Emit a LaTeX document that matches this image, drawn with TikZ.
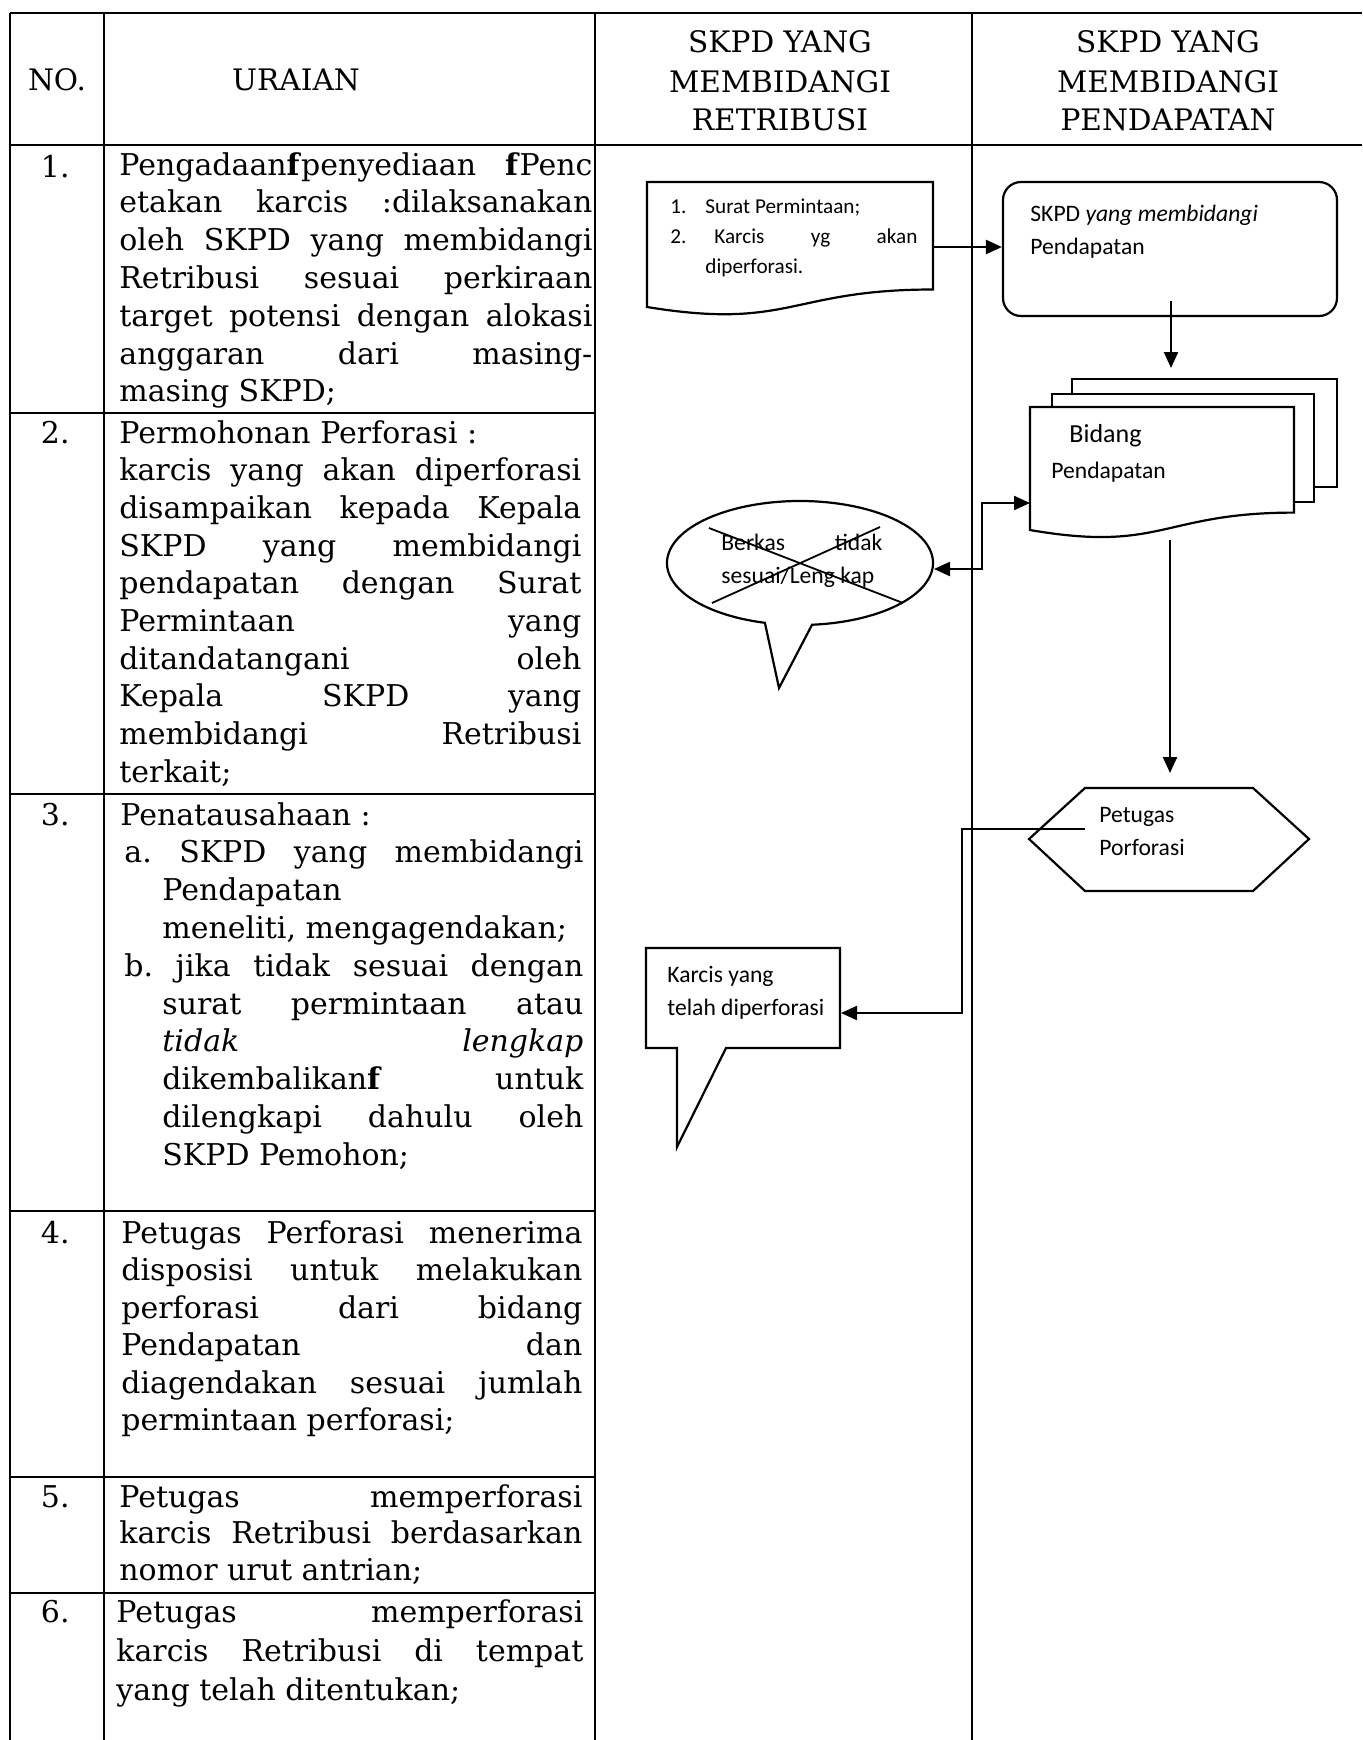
\documentclass[tikz,border=0pt]{standalone}
\usepackage{fontspec}
\setmainfont{DejaVu Serif}
\newfontfamily\cf{Carlito}
\usetikzlibrary{arrows.meta}
\newcommand\J[1]{\noindent\makebox[\linewidth][s]{#1}\par}
\newcommand\Ln[1]{\noindent#1\par}
\newlength\indw \setlength\indw{21pt}
\newcommand\JI[1]{\noindent\hspace*{\indw}\makebox[\dimexpr\linewidth-\indw\relax][s]{#1}\par}
\newcommand\LI[1]{\noindent\hspace*{\indw}#1\par}
\newcommand\rowbox[5]{\parbox[t]{#1}{\fontsize{15}{#2}\selectfont\setlength\parindent{0pt}\setlength\parskip{0pt}#3}}
\tikzset{
  tline/.style={line width=0.7pt},
  fline/.style={line width=1.1pt},
  arr/.style={fline,-{Triangle[length=8pt,width=7pt]}},
  twoarr/.style={fline,{Triangle[length=8pt,width=7pt]}-{Triangle[length=8pt,width=7pt]}},
  txt/.style={inner sep=0pt, anchor=base west},
  sm/.style={txt, font=\cf\fontsize{11.8}{14}\selectfont},
  smd/.style={txt, font=\cf\fontsize{10.6}{13}\selectfont},
  hd/.style={inner sep=0pt, anchor=base, font=\fontsize{14.8}{18}\selectfont},
  num/.style={inner sep=0pt, anchor=base east, font=\fontsize{15}{18}\selectfont}
}
\begin{document}
\begin{tikzpicture}[x=0.5pt,y=-0.5pt]
\useasboundingbox (0,0) rectangle (1362,1740);
% ---------- table ----------
\draw[tline] (10,13) -- (1362,13);
\draw[tline] (10,145) -- (1362,145);
\foreach \x in {10,104,595,972} \draw[tline] (\x,13) -- (\x,1740);
\foreach \y in {413,794,1211,1477,1593} \draw[tline] (10,\y) -- (595,\y);
% headers
\node[hd] (hno) at (57,90) {NO.};
\node[hd] (hur) at (296,90) {URAIAN};
\node[hd] (hr1) at (780,53) {SKPD YANG};
\node[hd] (hr2) at (780,92) {MEMBIDANGI};
\node[hd] (hr3) at (780,130) {RETRIBUSI};
\node[hd] (hp1) at (1168,53) {SKPD YANG};
\node[hd] (hp2) at (1168,92) {MEMBIDANGI};
\node[hd] (hp3) at (1168,130) {PENDAPATAN};
% numbers
\node[num] (n1) at (70,177) {1.};
\node[num] (n2) at (70,443) {2.};
\node[num] (n3) at (70,825) {3.};
\node[num] (n4) at (70,1243) {4.};
\node[num] (n5) at (70,1507) {5.};
\node[num] (n6) at (70,1622) {6.};
% rows
\node[txt] (r1) at (119,175) {\rowbox{236.5pt}{18.9pt}{%
\J{Pengadaan\textbf{f}penyediaan \textbf{f}Penc}
\J{etakan karcis :dilaksanakan}
\J{oleh SKPD yang membidangi}
\J{Retribusi sesuai perkiraan}
\J{target potensi dengan alokasi}
\J{anggaran dari masing-}
\Ln{masing SKPD;}}{}{}};
\node[txt] (r2) at (119,443) {\rowbox{231pt}{18.85pt}{%
\Ln{Permohonan Perforasi :}
\J{karcis yang akan diperforasi}
\J{disampaikan kepada Kepala}
\J{SKPD yang membidangi}
\J{pendapatan dengan Surat}
\J{Permintaan yang}
\J{ditandatangani oleh}
\J{Kepala SKPD yang}
\J{membidangi Retribusi}
\Ln{terkait;}}{}{}};
\node[txt] (r3) at (120,825) {\rowbox{231.5pt}{18.9pt}{%
\Ln{Penatausahaan :}
\J{\hspace*{2pt}a.\ SKPD yang membidangi}
\LI{Pendapatan}
\LI{meneliti, mengagendakan;}
\J{\hspace*{2pt}b.\ jika tidak sesuai dengan}
\JI{surat permintaan atau}
\JI{\textit{tidak} \textit{lengkap}}
\JI{dikembalikan\textbf{f} untuk}
\JI{dilengkapi dahulu oleh}
\LI{SKPD Pemohon;}}{}{}};
\node[txt] (r4) at (121,1243) {\rowbox{230.5pt}{18.75pt}{%
\J{Petugas Perforasi menerima}
\J{disposisi untuk melakukan}
\J{perforasi dari bidang}
\J{Pendapatan dan}
\J{diagendakan sesuai jumlah}
\Ln{permintaan perforasi;}}{}{}};
\node[txt] (r5) at (119,1507) {\rowbox{231.5pt}{18.25pt}{%
\J{Petugas memperforasi}
\J{karcis Retribusi berdasarkan}
\Ln{nomor urut antrian;}}{}{}};
\node[txt] (r6) at (116,1622) {\rowbox{233.5pt}{19.5pt}{%
\J{Petugas memperforasi}
\J{karcis Retribusi di tempat}
\Ln{yang telah ditentukan;}}{}{}};
% ---------- flowchart ----------
% document: Surat Permintaan
\draw[fline] (647,182) -- (933,182) -- (933,289.5) .. controls (790,289.5) and (790,330.4) .. (647,307) -- cycle;
\node[smd] (d1a) at (670,213) {1.};
\node[smd] (d1b) at (705,213) {Surat Permintaan;};
\node[smd] (d1c) at (670,243) {2.};
\node[smd] (d1d) at (714,243) {\makebox[101.5pt][s]{Karcis yg akan}};
\node[smd] (d1e) at (705,273) {diperforasi.};
% rounded process box
\node[draw, fline, rounded corners=9pt, minimum width=167pt, minimum height=67pt, inner sep=0pt] (rr) at (1170,249) {};
\node[sm] (rrt1) at (1030,221) {SKPD \textit{yang membidangi}};
\node[sm] (rrt2) at (1030,254) {Pendapatan};
\coordinate (c1) at (933,247);
\draw[arr] (c1) -- (c1 -| rr.west);
\coordinate (c2) at (1171,301);
\coordinate (c3) at (1171,368);
\draw[arr] (c2) -- (c3);
% multi-document
\draw[fline] (1072,394) -- (1072,379) -- (1337,379) -- (1337,487) -- (1314,487);
\draw[fline] (1052,407) -- (1052,394) -- (1314,394) -- (1314,502) -- (1294,502);
\draw[fline] (1030,407) -- (1294,407) -- (1294,512.6) .. controls (1162,512.6) and (1162,552.9) .. (1030,530) -- cycle;
\node[txt, font=\cf\fontsize{13}{15}\selectfont] (mb1) at (1069,442) {Bidang};
\node[sm] (mb2) at (1051,478) {Pendapatan};
% ellipse callout
\draw[fline] (764.9,622.8) arc[start angle=105.3, end angle=444.8, x radius=133, y radius=62] -- (779,688) -- cycle;
\draw[line width=0.9pt] (709,528) -- (903,603);
\draw[line width=0.9pt] (712,603) -- (880,527);
\node[sm] (bk1) at (721,550) {\makebox[80.5pt][s]{Berkas tidak}};
\node[sm] (bk2) at (721,583) {sesuai/Leng kap};
\coordinate (e1) at (1030,503);
\coordinate (e2) at (934,569);
\draw[twoarr] (e2) -- (982,569) -- (982,503) -- (e1);
% arrow to hexagon
\coordinate (c4) at (1170,540);
\coordinate (c5) at (1170,773);
\draw[arr] (c4) -- (c5);
% hexagon
\draw[fline] (1029,839) -- (1085,788) -- (1253,788) -- (1309,839) -- (1253,891) -- (1085,891) -- cycle;
\node[sm] (hx1) at (1099,822) {Petugas};
\node[sm] (hx2) at (1099,855) {Porforasi};
% rectangle callout
\draw[fline] (646,948) -- (840,948) -- (840,1048) -- (726,1048) -- (677,1147) -- (677,1048) -- (646,1048) -- cycle;
\node[sm] (kc1) at (667,982) {Karcis yang};
\node[sm] (kc2) at (667,1015) {telah diperforasi};
\coordinate (c6) at (1085,829);
\coordinate (c7) at (841,1013);
\draw[arr] (c6) -- (962,829) -- (962,1013) -- (c7);
\end{tikzpicture}
\end{document}
